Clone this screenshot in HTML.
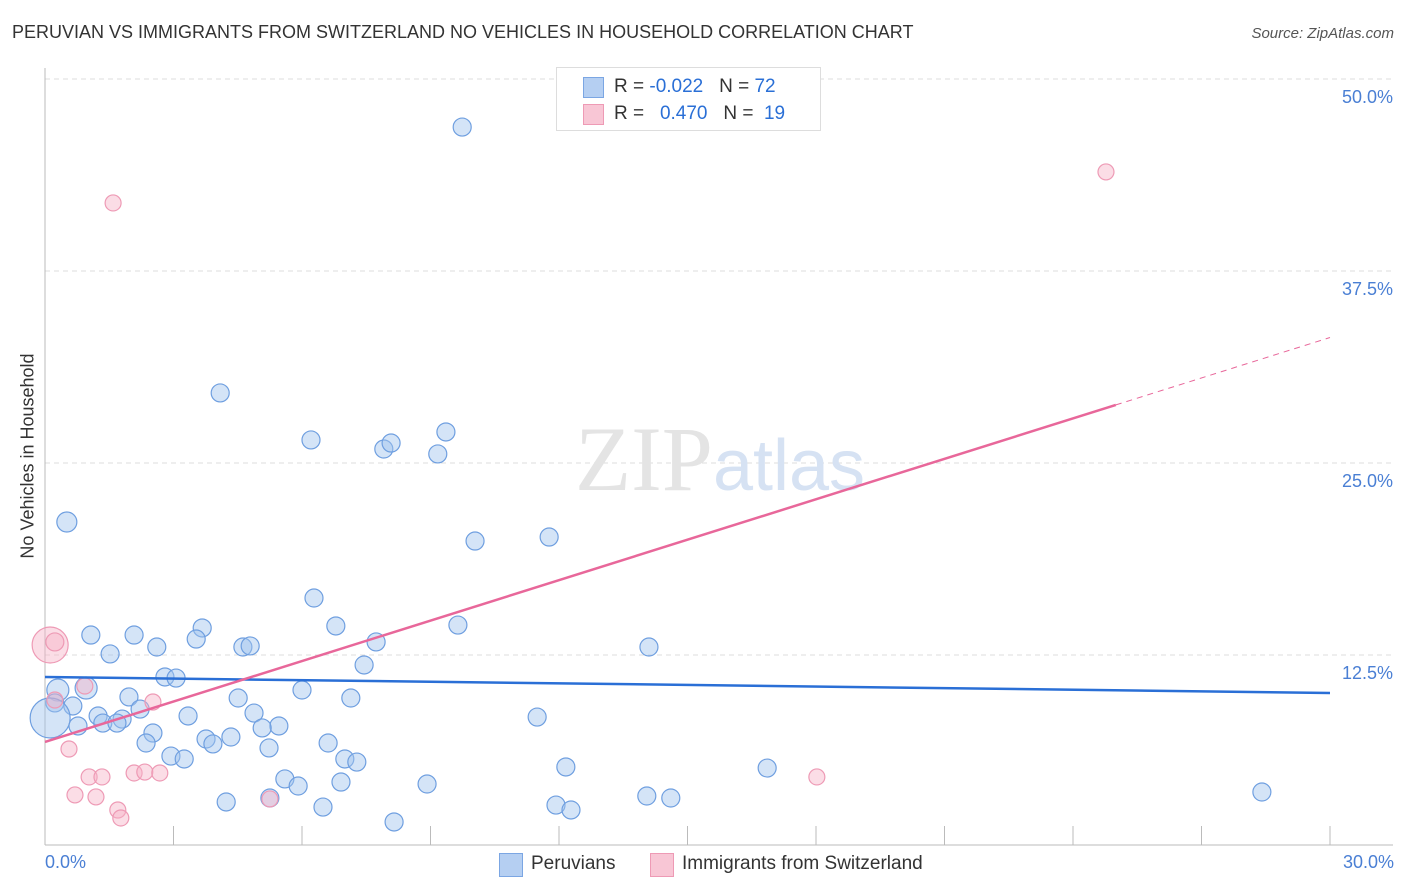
<!DOCTYPE html>
<html><head><meta charset="utf-8"><style>
body{margin:0;background:#fff;font-family:"Liberation Sans",sans-serif;}
#wrap{position:relative;width:1406px;height:892px;overflow:hidden;}
.t{position:absolute;white-space:nowrap;}
</style></head><body>
<div id="wrap">
<div class="t" style="left:12px;top:22px;font-size:18px;color:#333;">PERUVIAN VS IMMIGRANTS FROM SWITZERLAND NO VEHICLES IN HOUSEHOLD CORRELATION CHART</div>
<div class="t" style="right:12px;top:25px;font-size:15px;color:#555;font-style:italic;">Source: ZipAtlas.com</div>
<div class="t" style="left:28px;top:456px;font-size:18px;color:#333;transform:translate(-50%,-50%) rotate(-90deg);">No Vehicles in Household</div>
<svg id="svg" width="1406" height="892" style="position:absolute;left:0;top:0;"></svg>
</div>
<script>
const blueX=[9.74,4.09,6.21,7.91,8.08,9.36,9.17,0.51,10.04,11.77,6.28,6.79,9.64,1.07,2.08,3.67,3.53,2.61,4.62,4.79,7.73,14.10,1.52,7.45,2.80,3.06,6.00,7.14,4.51,1.96,0.96,0.30,0.23,0.65,2.22,1.24,1.80,1.35,1.68,3.34,4.88,5.46,5.07,11.49,0.77,2.52,2.36,3.76,4.34,3.92,6.61,5.23,2.94,3.25,7.00,7.28,12.16,16.86,5.60,5.91,6.91,8.92,14.05,14.61,4.23,5.25,6.49,11.93,12.28,8.15,28.41,0.12];
const blueY=[46.87,29.56,26.50,25.91,26.30,27.02,25.59,21.16,19.92,20.18,16.21,14.39,14.45,13.80,13.80,14.26,13.54,13.02,13.02,13.09,13.35,13.02,12.57,11.85,11.07,11.00,10.22,9.70,9.70,9.77,10.35,10.22,9.38,9.18,8.98,8.53,8.33,8.07,8.07,8.53,8.72,7.88,7.75,8.46,7.88,7.42,6.77,7.03,7.16,6.71,6.77,6.45,5.92,5.73,5.73,5.53,5.21,5.14,4.43,3.97,4.23,4.10,3.32,3.19,2.93,3.19,2.60,2.73,2.41,1.63,3.58,8.40];
const blueR=[9,9,9,9,9,9,9,10,9,9,9,9,9,9,9,9,9,9,9,9,9,9,9,9,9,9,9,9,9,9,11,11,9,9,9,9,9,9,9,9,9,9,9,9,9,9,9,9,9,9,9,9,9,9,9,9,9,9,9,9,9,9,9,9,9,9,9,9,9,9,9,20];
const pinkX=[1.59,24.77,0.12,0.23,0.93,2.52,0.56,1.03,1.33,2.08,2.33,2.68,0.70,1.19,1.70,1.77,5.25,18.02,0.23];
const pinkY=[41.93,43.95,13.15,13.35,10.48,9.44,6.38,4.56,4.56,4.82,4.88,4.82,3.39,3.26,2.41,1.89,3.13,4.56,9.57];
const pinkR=[8,8,18,9,8,8,8,8,8,8,8,8,8,8,8,8,8,8,8];
const yTicks=[12.5,25.0,37.5,50.0];
const yTickLabels=["12.5%","25.0%","37.5%","50.0%"];
const blueTrend=[11.07,10.03];
const pinkTrend=[6.84,33.17];
const pinkSolidEnd=25.0;
const x0=45,x1=1330,yZero=847,pxPer=192/12.5;
const sx=v=>x0+(v/30)*(x1-x0);
const sy=v=>yZero-v*pxPer;
const svg=document.getElementById('svg');
const NS='http://www.w3.org/2000/svg';
function mk(tag,attrs,name){const e=document.createElementNS(NS,tag);for(const k in attrs)e.setAttribute(k,attrs[k]);


svg.appendChild(e);return e;}
yTicks.forEach((t,i)=>{
 mk('line',{x1:x0,x2:1393,y1:sy(t),y2:sy(t),stroke:'#ddd','stroke-dasharray':'5,4'},'y-gridline');
 const tx=mk('text',{x:1393,y:sy(t)+24,'text-anchor':'end','font-size':18,fill:'#4a7fd4','font-family':'Liberation Sans'},'y-tick-label');
 tx.textContent=yTickLabels[i];
});
mk('line',{x1:x0,x2:x0,y1:68,y2:845,stroke:'#bbb'},'y-axis-line');
mk('line',{x1:x0,x2:1393,y1:845,y2:845,stroke:'#bbb'},'x-axis-line');
for(let i=0;i<=10;i++){const x=sx(i*3);mk('line',{x1:x,x2:x,y1:826,y2:845,stroke:'#bbb'},'x-tick');}
const wm=mk('text',{x:720,y:490,'text-anchor':'middle','font-size':92,'font-family':'Liberation Serif',fill:'#e4e4e4'},'watermark');
wm.innerHTML='ZIP<tspan font-family="Liberation Sans" font-size="72" fill="#d6e2f3">atlas</tspan>';
blueX.forEach((x,i)=>{mk('circle',{cx:sx(x),cy:sy(blueY[i]),r:blueR[i],fill:'rgba(160,195,238,0.45)',stroke:'#6f9fe0','stroke-width':1.2},'peruvian-point');});
pinkX.forEach((x,i)=>{mk('circle',{cx:sx(x),cy:sy(pinkY[i]),r:pinkR[i],fill:'rgba(246,180,200,0.45)',stroke:'#ee9ab5','stroke-width':1.2},'swiss-point');});
mk('line',{x1:sx(0),y1:sy(blueTrend[0]),x2:sx(30),y2:sy(blueTrend[1]),stroke:'#2a6fd6','stroke-width':2.5},'peruvian-trendline');
const pAt=v=>pinkTrend[0]+(pinkTrend[1]-pinkTrend[0])*v/30;
mk('line',{x1:sx(0),y1:sy(pAt(0)),x2:sx(pinkSolidEnd),y2:sy(pAt(pinkSolidEnd)),stroke:'#e8679a','stroke-width':2.5},'swiss-trendline');
mk('line',{x1:sx(pinkSolidEnd),y1:sy(pAt(pinkSolidEnd)),x2:sx(30),y2:sy(pAt(30)),stroke:'#e8679a','stroke-width':1,'stroke-dasharray':'6,5'},'swiss-trendline-extension');
</script>
<div class="t" style="left:45px;top:852px;font-size:18px;color:#4a7fd4;">0.0%</div>
<div class="t" style="right:12px;top:852px;font-size:18px;color:#4a7fd4;">30.0%</div>
<div style="position:absolute;left:556px;top:67px;width:263px;height:62px;border:1px solid #ddd;background:#fff;font-size:19px;color:#333;">
 <div style="position:absolute;left:26px;top:9px;width:19px;height:19px;background:#b5cff2;border:1px solid #7ba6e3;"></div>
 <div class="t" style="left:57px;top:8px;">R = <span style="color:#2a6fd6">-0.022</span>&nbsp;&nbsp;&nbsp;N = <span style="color:#2a6fd6">72</span></div>
 <div style="position:absolute;left:26px;top:36px;width:19px;height:19px;background:#f8c6d5;border:1px solid #ee9ab5;"></div>
 <div class="t" style="left:57px;top:35px;">R = &nbsp;&nbsp;<span style="color:#2a6fd6">0.470</span>&nbsp;&nbsp;&nbsp;N = &nbsp;<span style="color:#2a6fd6">19</span></div>
</div>
<div style="position:absolute;left:499px;top:853px;font-size:19px;color:#333;">
 <div style="position:absolute;left:0;top:0;width:22px;height:22px;background:#b5cff2;border:1px solid #7ba6e3;"></div>
 <div class="t" style="left:32px;top:0;">Peruvians</div>
 <div style="position:absolute;left:151px;top:0;width:22px;height:22px;background:#f8c6d5;border:1px solid #ee9ab5;"></div>
 <div class="t" style="left:183px;top:0;">Immigrants from Switzerland</div>
</div>
</body></html>
